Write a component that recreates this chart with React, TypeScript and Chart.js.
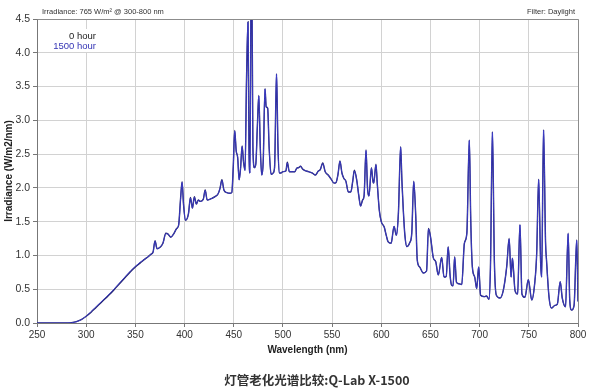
import React, { useEffect, useRef } from "react";
import { Chart, registerables } from "chart.js";

Chart.register(...registerables);

// ---- data ----
const wavelengths = [
  250, 280, 285, 290, 295, 300, 305, 310, 315, 320, 325, 330, 335, 340, 345, 350, 355, 360, 363, 366,
  368, 370, 372, 375, 378, 381, 383, 386, 389, 392, 394, 396, 397.5, 399, 401, 404, 406, 408, 410, 412,
  414, 416, 419, 421, 423, 427, 431, 434, 436, 438, 440, 443, 446, 448, 449.5, 451, 452.5, 454, 455.5, 457,
  458.5, 460, 461.5, 463, 464.5, 465.5, 466.5, 468, 469.5, 471, 472.5, 474, 475.5, 477, 478.5, 480, 481.8, 483, 484.5, 486,
  488, 490, 491.5, 493.5, 495, 496.5, 498, 500, 503, 504.5, 506.5, 510, 512, 514, 516, 518, 520, 522, 526, 530,
  533, 536, 538, 540.5, 543, 546, 549, 552, 554, 556, 558, 560, 562, 564, 566.5, 569, 571, 572.6, 575, 577,
  579, 581, 582.5, 584.5, 586, 587.5, 590, 591.5, 592.3, 594.6, 596, 598, 600, 603, 605, 607, 610, 613, 615.3, 617.4,
  619.7, 621, 622.4, 624, 626, 629, 631, 633, 635, 636.6, 639, 642.7, 646, 648, 650, 653, 655.3, 658, 661.4, 663.8,
  666, 668, 670, 671.5, 673, 674.6, 676.5, 679, 681.8, 684.5, 687, 689.5, 691, 692.6, 695, 697, 699, 701, 704.8, 707,
  709.5, 711, 713, 715, 717, 720.7, 724, 727.5, 730, 732, 733.3, 736, 738.6, 741, 743, 746, 749.5, 753, 756, 758,
  760, 762, 763, 765, 767, 768, 770.5, 773, 776.5, 779, 781.9, 784, 787.3, 790, 791.6, 793.5, 796, 798.7, 800,
];

const hour0 = [
  0, 0, 0.005, 0.02, 0.05, 0.1, 0.16, 0.23, 0.3, 0.37, 0.44, 0.52, 0.6, 0.68, 0.76, 0.83, 0.89, 0.95, 0.98, 1.02,
  1.05, 1.22, 1.1, 1.12, 1.18, 1.33, 1.32, 1.27, 1.32, 1.4, 1.45, 1.85, 2.09, 1.75, 1.52, 1.62, 1.86, 1.7, 1.87, 1.76,
  1.82, 1.8, 1.83, 1.97, 1.82, 1.84, 1.87, 1.91, 1.99, 2.12, 1.97, 1.93, 1.92, 1.93, 2.3, 2.85, 2.55, 2.45, 2.12, 2.3,
  2.62, 2.38, 2.26, 3.6, 4.46, 2.6, 2.22, 6.0, 2.6, 2.3, 2.36, 2.9, 3.37, 2.6, 2.19, 2.4, 3.47, 3.2, 3.18, 2.6,
  2.2, 2.22, 2.3, 3.69, 2.6, 2.22, 2.22, 2.24, 2.25, 2.38, 2.24, 2.24, 2.24, 2.29, 2.3, 2.32, 2.28, 2.26, 2.24, 2.22,
  2.19, 2.25, 2.27, 2.37, 2.24, 2.19, 2.13, 2.07, 2.08, 2.2, 2.4, 2.22, 2.14, 2.1, 1.94, 1.94, 2.1, 2.26, 2.12, 1.9,
  1.73, 1.82, 1.88, 2.56, 2.0, 1.88, 2.3, 2.1, 2.07, 2.35, 2.05, 1.67, 1.5, 1.42, 1.3, 1.2, 1.18, 1.43, 1.3, 1.62,
  2.61, 2.1, 1.67, 1.3, 1.13, 1.19, 1.33, 2.1, 1.6, 0.93, 0.83, 0.74, 0.77, 1.4, 1.28, 0.96, 0.91, 0.71, 0.97, 0.68,
  0.69, 1.13, 0.7, 0.56, 0.55, 0.98, 0.6, 0.58, 0.57, 1.18, 1.33, 2.71, 1.5, 0.83, 0.68, 0.51, 0.83, 0.41, 0.39, 0.4,
  0.35, 0.83, 2.83, 0.9, 0.41, 0.37, 0.48, 0.83, 1.25, 0.68, 0.96, 0.48, 0.43, 1.46, 0.43, 0.38, 0.64, 0.34, 0.59, 1.03,
  2.13, 0.9, 0.68, 2.86, 1.2, 0.93, 0.39, 0.22, 0.26, 0.28, 0.61, 0.37, 0.24, 1.33, 0.34, 0.19, 0.26, 1.23, 0.32,
];

const hour1500 = [
  0, 0, 0.004, 0.018, 0.05, 0.1, 0.17, 0.24, 0.31, 0.38, 0.45, 0.53, 0.61, 0.69, 0.77, 0.84, 0.9, 0.95, 0.98, 1.02,
  1.05, 1.21, 1.1, 1.12, 1.18, 1.32, 1.32, 1.27, 1.32, 1.4, 1.45, 1.84, 2.08, 1.75, 1.52, 1.62, 1.85, 1.7, 1.86, 1.76,
  1.82, 1.8, 1.83, 1.96, 1.82, 1.84, 1.87, 1.91, 1.99, 2.11, 1.97, 1.93, 1.92, 1.93, 2.3, 2.84, 2.55, 2.45, 2.12, 2.3,
  2.61, 2.38, 2.26, 3.6, 4.45, 2.6, 2.22, 6.0, 2.6, 2.3, 2.36, 2.9, 3.36, 2.6, 2.19, 2.4, 3.46, 3.2, 3.18, 2.6,
  2.2, 2.22, 2.3, 3.68, 2.6, 2.22, 2.22, 2.24, 2.25, 2.37, 2.24, 2.24, 2.24, 2.29, 2.3, 2.32, 2.28, 2.26, 2.24, 2.22,
  2.19, 2.25, 2.27, 2.36, 2.24, 2.19, 2.13, 2.07, 2.08, 2.2, 2.39, 2.22, 2.14, 2.1, 1.94, 1.94, 2.1, 2.25, 2.12, 1.9,
  1.73, 1.82, 1.88, 2.55, 2.0, 1.88, 2.29, 2.1, 2.07, 2.34, 2.05, 1.67, 1.5, 1.42, 1.3, 1.2, 1.18, 1.43, 1.3, 1.62,
  2.6, 2.1, 1.67, 1.3, 1.13, 1.19, 1.33, 2.09, 1.6, 0.93, 0.83, 0.74, 0.77, 1.39, 1.28, 0.96, 0.91, 0.71, 0.97, 0.68,
  0.69, 1.12, 0.7, 0.56, 0.55, 0.97, 0.6, 0.58, 0.57, 1.18, 1.33, 2.7, 1.5, 0.83, 0.68, 0.51, 0.83, 0.41, 0.39, 0.4,
  0.35, 0.83, 2.82, 0.9, 0.41, 0.37, 0.48, 0.83, 1.24, 0.68, 0.96, 0.48, 0.43, 1.45, 0.43, 0.38, 0.64, 0.34, 0.59, 1.03,
  2.12, 0.9, 0.68, 2.85, 1.2, 0.93, 0.39, 0.22, 0.26, 0.28, 0.61, 0.37, 0.24, 1.32, 0.34, 0.19, 0.26, 1.22, 0.32,
];

const seriesLabels = ["0 hour", "1500 hour"];
const xRange = [250, 800];
const yRange = [0, 4.5];
const headerLeft = "Irradiance: 765 W/m² @ 300-800 nm";
const headerRight = "Filter: Daylight";
const xTitle = "Wavelength (nm)";
const yTitle = "Irradiance (W/m2/nm)";
const chartTitle = "灯管老化光谱比较:Q-Lab X-1500";

const FONT = "'Liberation Sans', Arial, Helvetica, sans-serif";

const decorPlugin = {
  id: "decor",
  beforeDatasetsDraw(chart: any) {
    const ctx = chart.ctx;
    ctx.save();
    ctx.fillStyle = "#ffffff";
    ctx.fillRect(50, 29, 51, 23);
    ctx.restore();
  },
  afterDraw(chart: any) {
    const { ctx, chartArea: a } = chart;
    ctx.save();
    // plot frame
    ctx.strokeStyle = "#8c8c8c";
    ctx.lineWidth = 1;
    ctx.beginPath();
    ctx.moveTo(Math.round(a.left) + 0.5, Math.round(a.top) + 0.5);
    ctx.lineTo(Math.round(a.right) + 0.5, Math.round(a.top) + 0.5);
    ctx.lineTo(Math.round(a.right) + 0.5, Math.round(a.bottom) + 0.5);
    ctx.stroke();

    // header texts
    ctx.fillStyle = "#333";
    ctx.font = `7.5px ${FONT}`;
    ctx.textBaseline = "middle";
    ctx.textAlign = "left";
    ctx.fillText(headerLeft, 42, 12);
    ctx.textAlign = "right";
    ctx.fillText(headerRight, 575, 12);

    // legend
    ctx.font = `9.5px ${FONT}`;
    ctx.textAlign = "right";
    ctx.fillStyle = "#222";
    ctx.fillText(seriesLabels[0], 96, 36.5);
    ctx.fillStyle = "#3535b5";
    ctx.fillText(seriesLabels[1], 96, 46.5);

    // axis titles
    ctx.fillStyle = "#222";
    ctx.font = `bold 10px ${FONT}`;
    ctx.textAlign = "center";
    ctx.fillText(xTitle, (a.left + a.right) / 2, 350);
    ctx.save();
    ctx.translate(9, (a.top + a.bottom) / 2);
    ctx.rotate(-Math.PI / 2);
    ctx.fillText(yTitle, 0, 0);
    ctx.restore();

    // bottom title
    ctx.fillStyle = "#333";
    ctx.font = `bold 12.5px 'Noto Sans CJK SC', ${FONT}`;
    ctx.textAlign = "center";
    ctx.fillText(chartTitle, 317, 380);
    ctx.restore();
  },
};

export default function App() {
  const canvasRef = useRef<HTMLCanvasElement | null>(null);

  useEffect(() => {
    const canvas = canvasRef.current;
    if (!canvas) return;
    const toPoints = (ys: number[]) => wavelengths.map((x, i) => ({ x, y: ys[i] }));
    const chart = new Chart(canvas, {
      type: "line",
      data: {
        datasets: [
          {
            label: seriesLabels[0],
            data: toPoints(hour0),
            borderColor: "#23236a",
            borderWidth: 1.4,
            pointRadius: 0,
            cubicInterpolationMode: "monotone",
            fill: false,
            order: 2,
          },
          {
            label: seriesLabels[1],
            data: toPoints(hour1500),
            borderColor: "#3d3dcc",
            borderWidth: 0.9,
            pointRadius: 0,
            cubicInterpolationMode: "monotone",
            fill: false,
            order: 1,
          },
        ],
      },
      options: {
        responsive: false,
        animation: false,
        events: [],
        layout: { padding: { left: 0, top: 19, right: 22, bottom: 0 } },
        plugins: {
          legend: { display: false },
          title: { display: false },
          tooltip: { enabled: false },
        },
        scales: {
          x: {
            type: "linear",
            min: xRange[0],
            max: xRange[1],
            afterFit: (s: any) => {
              s.height = 67;
            },
            ticks: {
              stepSize: 50,
              color: "#333",
              font: { size: 10, family: FONT },
              padding: 2,
              maxRotation: 0,
            },
            grid: {
              color: "#d2d2d2",
              lineWidth: 1,
              tickLength: 4,
              tickColor: "#777",
            },
            border: { display: true, color: "#777", width: 1 },
          },
          y: {
            type: "linear",
            min: yRange[0],
            max: yRange[1],
            afterFit: (s: any) => {
              s.width = 37;
            },
            ticks: {
              stepSize: 0.5,
              color: "#333",
              font: { size: 10.5, family: FONT },
              padding: 3,
              callback: (v: any) => Number(v).toFixed(1),
            },
            grid: {
              color: "#d2d2d2",
              lineWidth: 1,
              tickLength: 4,
              tickColor: "#777",
            },
            border: { display: true, color: "#777", width: 1 },
          },
        },
      },
      plugins: [decorPlugin],
    } as any);
    return () => chart.destroy();
  }, []);

  return (
    <div style={{ position: "fixed", left: 0, top: 0, width: 600, height: 390, background: "#fff" }}>
      <canvas ref={canvasRef} width={600} height={390} style={{ display: "block" }} />
    </div>
  );
}
